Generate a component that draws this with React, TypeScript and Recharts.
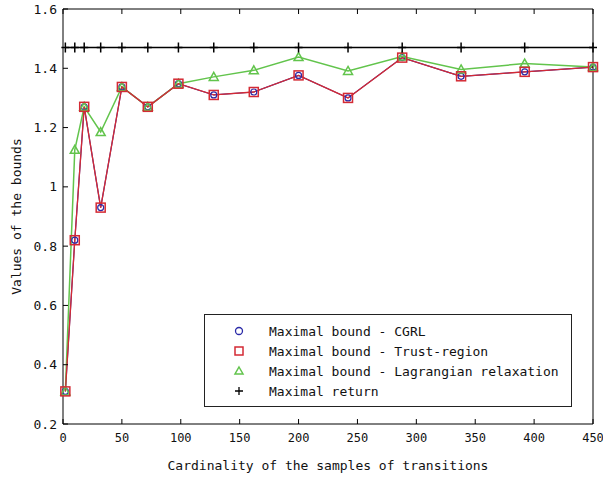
import React from 'react';
import {
  LineChart,
  Line,
  XAxis,
  YAxis,
} from 'recharts';

// sample sizes (x axis)
const sampleSizes = [2, 10, 18, 32, 50, 72, 98, 128, 162, 200, 242, 288, 338, 392, 450];

// bound values
const cgrlBound = [0.31, 0.82, 1.27, 0.93, 1.337, 1.27, 1.348, 1.31, 1.32, 1.376, 1.3, 1.436, 1.373, 1.388, 1.404];
const trustBound = [0.31, 0.82, 1.27, 0.93, 1.337, 1.27, 1.348, 1.31, 1.32, 1.376, 1.3, 1.436, 1.373, 1.388, 1.404];
const lagrangianBound = [0.31, 1.125, 1.27, 1.185, 1.337, 1.27, 1.348, 1.371, 1.393, 1.438, 1.391, 1.44, 1.396, 1.416, 1.404];
const maximalReturn = [1.47, 1.47, 1.47, 1.47, 1.47, 1.47, 1.47, 1.47, 1.47, 1.47, 1.47, 1.47, 1.47, 1.47, 1.47];

const xTicks = [0, 50, 100, 150, 200, 250, 300, 350, 400, 450];
const yTicks = [0.2, 0.4, 0.6, 0.8, 1, 1.2, 1.4, 1.6];

const FONT = '"DejaVu Sans Mono", monospace';
const BLUE = '#2a2aa8';
const RED = '#d42a34';
const GREEN = '#62c44c';

const data = sampleSizes.map((x, i) => ({
  x,
  cgrl: cgrlBound[i],
  trust: trustBound[i],
  lagr: lagrangianBound[i],
  ret: maximalReturn[i],
}));

const CircleDot = (props: any) => (
  <circle key={props.key} cx={props.cx} cy={props.cy} r={3} fill="none" stroke={BLUE} strokeWidth={1.2} />
);

const SquareDot = (props: any) => (
  <rect key={props.key} x={props.cx - 4.5} y={props.cy - 4.5} width={9} height={9} fill="none" stroke={RED} strokeWidth={1.5} />
);

const TriangleDot = (props: any) => (
  <path
    key={props.key}
    d={`M${props.cx},${props.cy - 4.5} L${props.cx + 4.5},${props.cy + 3.5} L${props.cx - 4.5},${props.cy + 3.5} Z`}
    fill="none"
    stroke={GREEN}
    strokeWidth={1.5}
  />
);

const PlusDot = (props: any) => (
  <path
    key={props.key}
    d={`M${props.cx - 4},${props.cy} H${props.cx + 4} M${props.cx},${props.cy - 5} V${props.cy + 5}`}
    stroke="#000"
    strokeWidth={1.5}
  />
);

// empty tick label so only the tick marks show on the top/right frame
const NoLabel = (props: any) => <g key={props.index} />;

const legendRows = [
  { label: 'Maximal bound - CGRL', symbol: 'o', color: BLUE },
  { label: 'Maximal bound - Trust-region', symbol: 's', color: RED },
  { label: 'Maximal bound - Lagrangian relaxation', symbol: 't', color: GREEN },
  { label: 'Maximal return', symbol: '+', color: '#000' },
];

const LegendBox = () => (
  <div
    style={{
      position: 'absolute',
      left: 204,
      top: 314,
      width: 368,
      height: 93,
      border: '1px solid #222',
      background: '#fff',
      fontFamily: FONT,
      fontSize: 13,
      color: '#111',
      boxSizing: 'border-box',
      paddingTop: 6,
    }}
  >
    {legendRows.map((r) => (
      <div key={r.label} style={{ display: 'flex', alignItems: 'center', height: 20 }}>
        <svg width={64} height={14}>
          {r.symbol === 'o' && <circle cx={34} cy={7} r={3.5} fill="none" stroke={r.color} strokeWidth={1.3} />}
          {r.symbol === 's' && <rect x={30} y={3} width={8} height={8} fill="none" stroke={r.color} strokeWidth={1.5} />}
          {r.symbol === 't' && <path d="M34,3 L38,10 L30,10 Z" fill="none" stroke={r.color} strokeWidth={1.5} />}
          {r.symbol === '+' && <path d="M30,7 H38 M34,3 V11" stroke={r.color} strokeWidth={1.3} />}
        </svg>
        <span>{r.label}</span>
      </div>
    ))}
  </div>
);

const App: React.FC = () => {
  return (
    <div style={{ position: 'absolute', left: 0, top: 0, width: 603, height: 478, background: '#fff' }}>
      <LineChart
        width={603}
        height={478}
        data={data}
        margin={{ top: 8, right: 9, left: 0, bottom: 0 }}
      >
        <XAxis
          dataKey="x"
          type="number"
          domain={[0, 450]}
          ticks={xTicks}
          height={54}
          tickSize={-5}
          tickMargin={14}
          stroke="#000"
          tick={{ fill: '#111', fontSize: 12, fontFamily: FONT }}
          label={{ value: 'Cardinality of the samples of transitions', position: 'insideBottom', offset: 8, fill: '#111', fontSize: 13, fontFamily: FONT }}
        />
        <XAxis
          xAxisId="top"
          orientation="top"
          dataKey="x"
          type="number"
          domain={[0, 450]}
          ticks={xTicks}
          height={1}
          tickSize={-5}
          tick={NoLabel}
          stroke="#000"
        />
        <YAxis
          type="number"
          domain={[0.2, 1.6]}
          ticks={yTicks}
          width={63}
          tickSize={-5}
          tickMargin={11}
          stroke="#000"
          tick={{ fill: '#111', fontSize: 13, fontFamily: FONT }}
          label={{ value: 'Values of the bounds', angle: -90, position: 'insideLeft', offset: 16, fill: '#111', fontSize: 13, fontFamily: FONT, style: { textAnchor: 'middle' } }}
        />
        <YAxis
          yAxisId="right"
          orientation="right"
          type="number"
          domain={[0.2, 1.6]}
          ticks={yTicks}
          width={1}
          tickSize={-5}
          tick={NoLabel}
          stroke="#000"
        />
        <Line dataKey="cgrl" name="Maximal bound - CGRL" stroke={BLUE} strokeWidth={1.2} dot={CircleDot} isAnimationActive={false} />
        <Line dataKey="lagr" name="Maximal bound - Lagrangian relaxation" stroke={GREEN} strokeWidth={1.5} dot={TriangleDot} isAnimationActive={false} />
        <Line dataKey="trust" name="Maximal bound - Trust-region" stroke={RED} strokeWidth={1.3} dot={SquareDot} isAnimationActive={false} />
        <Line dataKey="ret" name="Maximal return" stroke="#000" strokeWidth={1.5} dot={PlusDot} isAnimationActive={false} />
      </LineChart>
      <LegendBox />
    </div>
  );
};

export default App;
